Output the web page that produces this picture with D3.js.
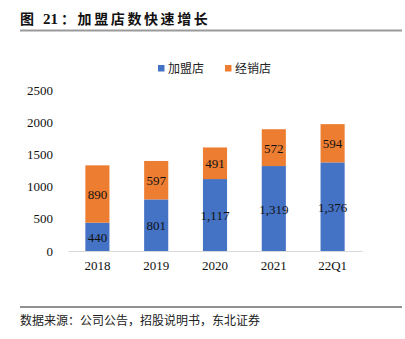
<!DOCTYPE html>
<html>
<head>
<meta charset="utf-8">
<script src="https://cdn.jsdelivr.net/npm/d3@7"></script>
<style>
  body { margin: 0; background: #fff; }
  svg { display: block; }
</style>
</head>
<body>
<div id="graphic"></div>
<script>
// store counts by period
var categories = ["2018", "2019", "2020", "2021", "22Q1"];
var franchise = [440, 801, 1117, 1319, 1376];
var dealer = [890, 597, 491, 572, 594];
var seriesNames = ["加盟店", "经销店"];
var colours = ["#4472C4", "#ED7D31"];
var yTicks = [0, 500, 1000, 1500, 2000, 2500];

var width = 405, height = 339;
var serif = "'Liberation Serif', 'Times New Roman', serif";
var cjk = "'Noto Sans CJK SC', sans-serif";

var svg = d3.select('#graphic').append('svg')
  .attr('width', width)
  .attr('height', height);

// title and rule under it
var title = svg.append('text')
  .attr('y', 24)
  .attr('font-weight', 'bold')
  .attr('font-size', 14)
  .attr('fill', '#111');
title.append('tspan').attr('x', 20).attr('font-family', cjk).text('图');
title.append('tspan').attr('x', 43).attr('font-family', serif).attr('font-size', 15).text('21');
title.append('tspan').attr('x', 61).attr('font-family', cjk).attr('letter-spacing', 2.6).text('：加盟店数快速增长');

svg.append('line')
  .attr('x1', 20).attr('x2', 402)
  .attr('y1', 30.5).attr('y2', 30.5)
  .attr('stroke', '#9a9a9a').attr('stroke-width', 2);

// scales
var x = d3.scaleBand()
  .domain(categories)
  .range([68, 362])
  .paddingInner(0.59)
  .paddingOuter(0.295);

var y = d3.scaleLinear()
  .domain([0, 2500])
  .range([251, 90]);

// y axis labels, no line
var yAxis = svg.append('g')
  .attr('transform', 'translate(53,0)')
  .call(d3.axisLeft(y).tickValues(yTicks).tickSize(0).tickPadding(0).tickFormat(d3.format('d')));
yAxis.select('.domain').remove();
yAxis.selectAll('text')
  .attr('font-family', serif)
  .attr('font-size', 13)
  .attr('fill', '#111');

// stacked data
var data = categories.map(function(c, i) {
  return { cat: c, values: [franchise[i], dealer[i]] };
});

var bars = svg.selectAll('g.bar')
  .data(data)
  .join('g')
  .attr('class', 'bar');

bars.each(function(d) {
  var g = d3.select(this);
  var base = 0;
  d.values.forEach(function(v, k) {
    g.append('rect')
      .attr('x', x(d.cat))
      .attr('width', x.bandwidth())
      .attr('y', y(base + v))
      .attr('height', y(base) - y(base + v))
      .attr('fill', colours[k]);
    g.append('text')
      .attr('x', x(d.cat) + x.bandwidth() / 2)
      .attr('y', (y(base) + y(base + v)) / 2 + 5)
      .attr('text-anchor', 'middle')
      .attr('font-family', serif)
      .attr('font-size', 13)
      .attr('fill', '#111')
      .text(d3.format(',')(v));
    base += v;
  });
});

// x axis
var xAxis = svg.append('g')
  .attr('transform', 'translate(0,251)')
  .call(d3.axisBottom(x).tickSize(0).tickPadding(10));
xAxis.select('.domain').attr('stroke', '#d9d9d9');
xAxis.selectAll('text')
  .attr('font-family', serif)
  .attr('font-size', 13)
  .attr('fill', '#111');

// legend
var legendX = [158, 225];
var legend = svg.selectAll('g.legend')
  .data(seriesNames)
  .join('g')
  .attr('class', 'legend')
  .attr('transform', function(d, i) { return 'translate(' + legendX[i] + ',65)'; });

legend.append('rect')
  .attr('width', 6.5).attr('height', 6.5)
  .attr('fill', function(d, i) { return colours[i]; });

legend.append('text')
  .attr('x', 10).attr('y', 7.5)
  .attr('font-family', cjk)
  .attr('font-size', 12)
  .attr('fill', '#222')
  .text(function(d) { return d; });

// source line
svg.append('line')
  .attr('x1', 20).attr('x2', 402)
  .attr('y1', 307).attr('y2', 307)
  .attr('stroke', '#222').attr('stroke-width', 1);

svg.append('text')
  .attr('x', 20).attr('y', 325)
  .attr('font-family', cjk)
  .attr('font-size', 12)
  .attr('fill', '#222')
  .text('数据来源：公司公告，招股说明书，东北证券');
</script>
</body>
</html>
